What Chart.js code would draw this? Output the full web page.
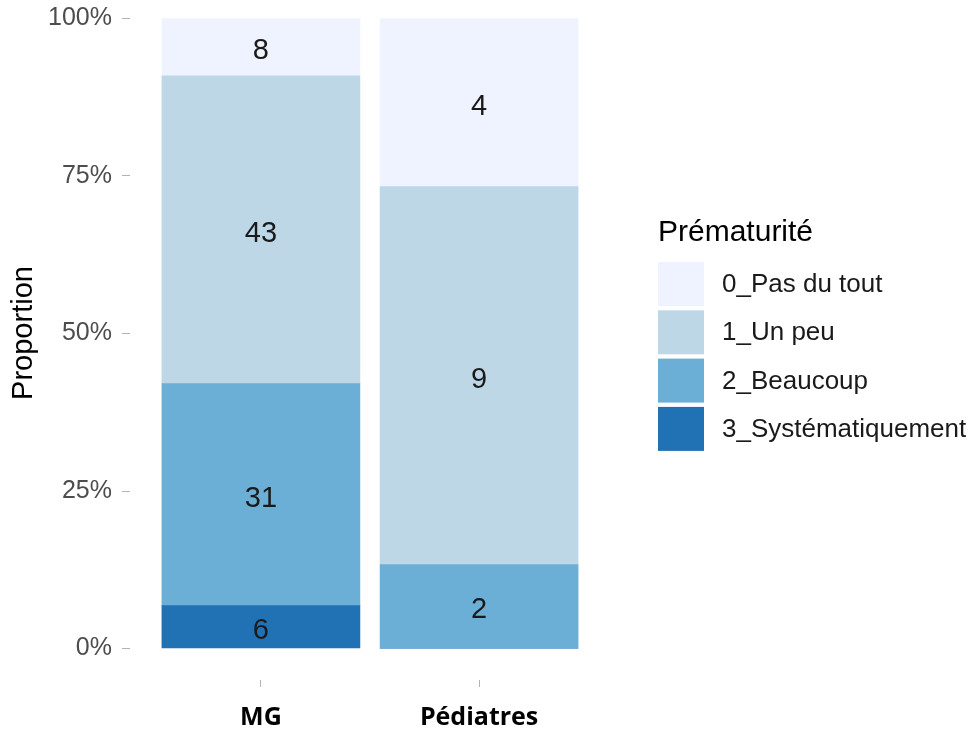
<!DOCTYPE html>
<html>
<head>
<meta charset="utf-8">
<script src="https://cdn.jsdelivr.net/npm/chart.js@4.4.0/dist/chart.umd.min.js"></script>
<style>
  html, body { margin: 0; padding: 0; background: #fff; }
  #wrap { width: 971px; height: 734px; }
</style>
</head>
<body>
<div id="wrap"><canvas id="myChart" width="971" height="734"></canvas></div>
<script>
// groups on the x axis
const groups = ['MG', 'Pédiatres'];
// answer levels, top of the legend first
const levels = ['0_Pas du tout', '1_Un peu', '2_Beaucoup', '3_Systématiquement'];
const colors = ['#eff3ff', '#bdd7e7', '#6baed6', '#2171b5'];
// counts, same order as levels
const mgCounts = [8, 43, 31, 6];
const pedCounts = [4, 9, 2, 0];
const yTicks = [0, 0.25, 0.5, 0.75, 1];
const yTickLabels = ['0%', '25%', '50%', '75%', '100%'];

const mgTotal = mgCounts.reduce((a, b) => a + b, 0);
const pedTotal = pedCounts.reduce((a, b) => a + b, 0);

// chart.js stacks the first dataset at the bottom, so go from level 3 to 0
const datasets = [];
for (let i = levels.length - 1; i >= 0; i--) {
    datasets.push({
        label: levels[i],
        data: [
            {x: 0, y: mgCounts[i] / mgTotal},
            {x: 1, y: pedCounts[i] / pedTotal}
        ],
        counts: [mgCounts[i], pedCounts[i]],
        backgroundColor: colors[i],
        borderWidth: 0,
        barThickness: 198
    });
}

// numbers in the middle of each piece
const countLabels = {
    id: 'countLabels',
    afterDatasetsDraw(chart) {
        const ctx = chart.ctx;
        ctx.save();
        ctx.font = '29px "Liberation Sans", Arial, sans-serif';
        ctx.fillStyle = '#1a1a1a';
        ctx.textAlign = 'center';
        ctx.textBaseline = 'middle';
        chart.data.datasets.forEach((ds, di) => {
            const meta = chart.getDatasetMeta(di);
            meta.data.forEach((bar, j) => {
                const n = ds.counts[j];
                if (!n) return;
                ctx.fillText(String(n), bar.x, (bar.y + bar.base) / 2 + 4);
            });
        });
        ctx.restore();
    }
};

// legend on the right and the y title, drawn like ggplot's
const sideLegend = {
    id: 'sideLegend',
    afterDraw(chart) {
        const ctx = chart.ctx;
        const x0 = chart.chartArea.right + 48;
        ctx.save();
        ctx.fillStyle = '#000';
        ctx.textAlign = 'left';
        ctx.textBaseline = 'middle';
        ctx.font = '30px "Liberation Sans", Arial, sans-serif';
        ctx.fillText('Prématurité', x0, 233);
        ctx.font = '26px "Liberation Sans", Arial, sans-serif';
        levels.forEach((lab, i) => {
            const top = 262 + i * 48.3;
            ctx.fillStyle = colors[i];
            ctx.fillRect(x0, top, 46, 44);
            ctx.fillStyle = '#1a1a1a';
            ctx.fillText(lab, x0 + 64, top + 23);
        });
        // y axis title
        ctx.translate(24, 333);
        ctx.rotate(-Math.PI / 2);
        ctx.textAlign = 'center';
        ctx.fillStyle = '#000';
        ctx.font = '29px "Liberation Sans", Arial, sans-serif';
        ctx.fillText('Proportion', 0, 0);
        ctx.restore();
    }
};

const ctx = document.getElementById('myChart').getContext('2d');
const myChart = new Chart(ctx, {
    type: 'bar',
    data: { datasets: datasets },
    plugins: [countLabels, sideLegend],
    options: {
        responsive: false,
        animation: false,
        devicePixelRatio: 1,
        layout: { padding: { left: 0, top: 0, right: 361, bottom: 0 } },
        plugins: {
            legend: { display: false },
            tooltip: { enabled: false }
        },
        scales: {
            x: {
                type: 'linear',
                stacked: true,
                offset: false,
                min: -0.6,
                max: 1.6,
                afterBuildTicks: (scale) => { scale.ticks = [{value: 0}, {value: 1}]; },
                afterFit: (scale) => { scale.height = 54; scale.paddingLeft = 0; scale.paddingRight = 0; },
                ticks: {
                    callback: (v) => groups[v],
                    color: '#000',
                    padding: 16,
                    maxRotation: 0,
                    font: { family: '"Open Sans", sans-serif', size: 25, weight: 'bold' }
                },
                grid: { drawOnChartArea: false, offset: false, tickLength: 7, color: '#b3b3b3' },
                border: { display: false }
            },
            y: {
                stacked: true,
                min: -0.05,
                max: -0.05 + 680 / 630,
                afterBuildTicks: (scale) => { scale.ticks = yTicks.map(v => ({value: v})); },
                afterFit: (scale) => { scale.width = 130; scale.paddingTop = 0; scale.paddingBottom = 0; },
                ticks: {
                    callback: (v) => yTickLabels[yTicks.indexOf(v)],
                    color: '#4d4d4d',
                    padding: 10,
                    font: { family: '"Liberation Sans", Arial, sans-serif', size: 25 }
                },
                grid: { drawOnChartArea: false, tickLength: 8, color: '#b3b3b3' },
                border: { display: false }
            }
        }
    }
});
</script>
</body>
</html>
